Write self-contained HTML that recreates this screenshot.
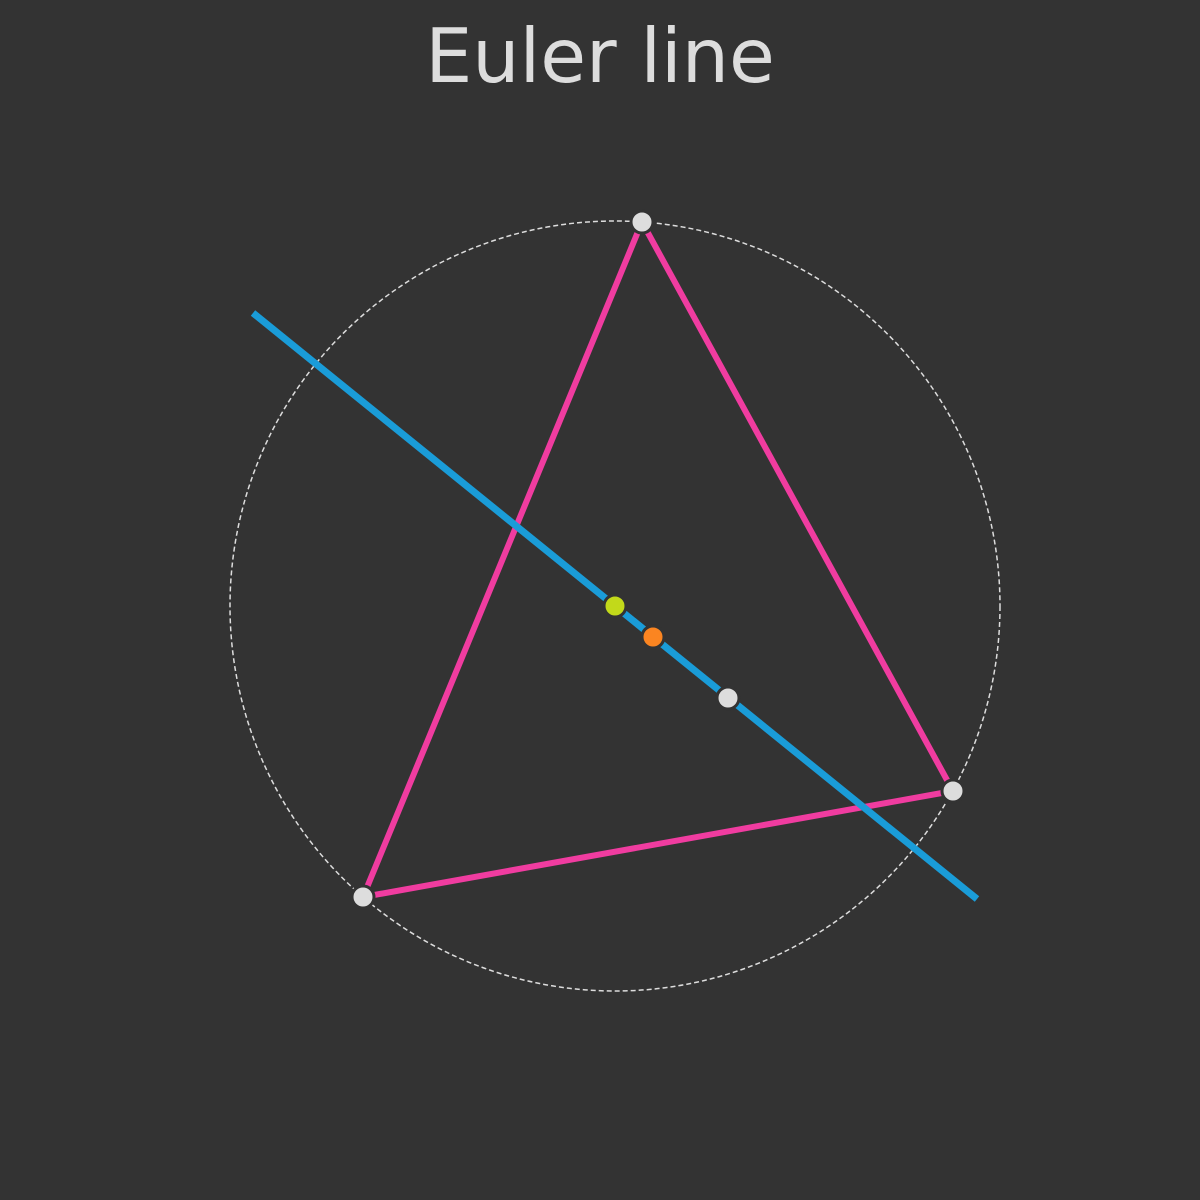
<!DOCTYPE html>
<html><head><meta charset="utf-8"><style>
html,body{margin:0;padding:0;background:#333333;}
svg{display:block;}
</style></head><body>
<svg id="chart" width="1200" height="1200" viewBox="0 0 1200 1200" xmlns="http://www.w3.org/2000/svg">
<rect x="0" y="0" width="1200" height="1200" fill="#333333"/>
<text x="600" y="82" text-anchor="middle" font-family="'DejaVu Sans','Liberation Sans',sans-serif" font-size="74.5" fill="#dddddd">Euler line</text>
<g id="marks"></g>
</svg>
<script>
const vertexX = [642, 953, 363];
const vertexY = [222, 791, 897];
const circumcenter = [615, 606];
const circumradius = 385;
const centroid = [653, 637];
const orthocenter = [728, 698];
const eulerLineEnds = [[253, 313], [977, 899]];

const NS = 'http://www.w3.org/2000/svg';
const g = document.getElementById('marks');
function mk(tag, attrs){ const e = document.createElementNS(NS, tag); for (const k in attrs) e.setAttribute(k, attrs[k]); g.appendChild(e); return e; }

const circ = mk('circle', {cx: circumcenter[0], cy: circumcenter[1], r: circumradius, fill: 'none', stroke: '#dddddd', 'stroke-width': 1.5, 'stroke-dasharray': '5 3'});



const tri = mk('polygon', {points: vertexX.map((x,i)=>x+','+vertexY[i]).join(' '), fill: 'none', stroke: '#f03ca0', 'stroke-width': 6, 'stroke-linejoin': 'round'});



const el = mk('line', {x1: eulerLineEnds[0][0], y1: eulerLineEnds[0][1], x2: eulerLineEnds[1][0], y2: eulerLineEnds[1][1], stroke: '#1a9cd8', 'stroke-width': 7});



function pt(x, y, color, name){
  const c = mk('circle', {cx: x, cy: y, r: 11, fill: color, stroke: '#333333', 'stroke-width': 3});
  
  
}
vertexX.forEach((x,i)=>pt(x, vertexY[i], '#dddddd', 'vertex-' + (i+1)));
pt(circumcenter[0], circumcenter[1], '#c2d91a', 'circumcenter-point');
pt(centroid[0], centroid[1], '#fb8521', 'centroid-point');
pt(orthocenter[0], orthocenter[1], '#dddddd', 'orthocenter-point');
</script>
</body></html>
